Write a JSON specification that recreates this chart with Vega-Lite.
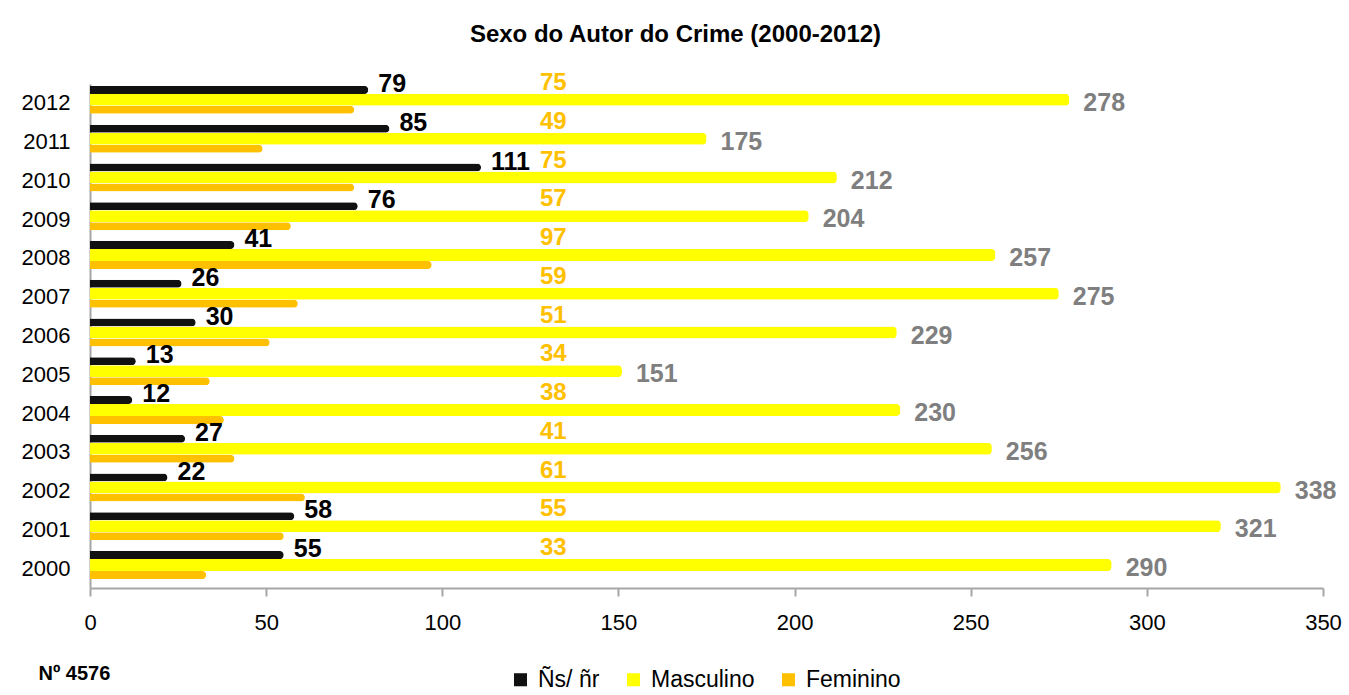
{
  "$schema": "https://vega.github.io/schema/vega-lite/v6.json",
  "width": 1233,
  "height": 504,
  "autosize": "none",
  "padding": {"left": 90, "top": 84, "right": 26, "bottom": 107},
  "background": "white",
  "config": {"font": "Liberation Sans", "view": {"stroke": null}},
  "title": {"text": "Sexo do Autor do Crime (2000-2012)", "fontSize": 24, "fontWeight": "bold", "font": "Liberation Sans", "color": "black", "offset": 24, "dx": -31},
  "data": {"values": [
    {"ano": "2012", "serie": "Ñs/ ñr", "valor": 79}, {"ano": "2012", "serie": "Masculino", "valor": 278}, {"ano": "2012", "serie": "Feminino", "valor": 75},
    {"ano": "2011", "serie": "Ñs/ ñr", "valor": 85}, {"ano": "2011", "serie": "Masculino", "valor": 175}, {"ano": "2011", "serie": "Feminino", "valor": 49},
    {"ano": "2010", "serie": "Ñs/ ñr", "valor": 111}, {"ano": "2010", "serie": "Masculino", "valor": 212}, {"ano": "2010", "serie": "Feminino", "valor": 75},
    {"ano": "2009", "serie": "Ñs/ ñr", "valor": 76}, {"ano": "2009", "serie": "Masculino", "valor": 204}, {"ano": "2009", "serie": "Feminino", "valor": 57},
    {"ano": "2008", "serie": "Ñs/ ñr", "valor": 41}, {"ano": "2008", "serie": "Masculino", "valor": 257}, {"ano": "2008", "serie": "Feminino", "valor": 97},
    {"ano": "2007", "serie": "Ñs/ ñr", "valor": 26}, {"ano": "2007", "serie": "Masculino", "valor": 275}, {"ano": "2007", "serie": "Feminino", "valor": 59},
    {"ano": "2006", "serie": "Ñs/ ñr", "valor": 30}, {"ano": "2006", "serie": "Masculino", "valor": 229}, {"ano": "2006", "serie": "Feminino", "valor": 51},
    {"ano": "2005", "serie": "Ñs/ ñr", "valor": 13}, {"ano": "2005", "serie": "Masculino", "valor": 151}, {"ano": "2005", "serie": "Feminino", "valor": 34},
    {"ano": "2004", "serie": "Ñs/ ñr", "valor": 12}, {"ano": "2004", "serie": "Masculino", "valor": 230}, {"ano": "2004", "serie": "Feminino", "valor": 38},
    {"ano": "2003", "serie": "Ñs/ ñr", "valor": 27}, {"ano": "2003", "serie": "Masculino", "valor": 256}, {"ano": "2003", "serie": "Feminino", "valor": 41},
    {"ano": "2002", "serie": "Ñs/ ñr", "valor": 22}, {"ano": "2002", "serie": "Masculino", "valor": 338}, {"ano": "2002", "serie": "Feminino", "valor": 61},
    {"ano": "2001", "serie": "Ñs/ ñr", "valor": 58}, {"ano": "2001", "serie": "Masculino", "valor": 321}, {"ano": "2001", "serie": "Feminino", "valor": 55},
    {"ano": "2000", "serie": "Ñs/ ñr", "valor": 55}, {"ano": "2000", "serie": "Masculino", "valor": 290}, {"ano": "2000", "serie": "Feminino", "valor": 33}
  ]},
  "encoding": {
    "y": {"field": "ano", "type": "ordinal", "sort": "descending",
          "scale": {"paddingInner": 0, "paddingOuter": 0},
          "axis": {"title": null, "ticks": false, "labelFontSize": 22, "labelColor": "black", "labelPadding": 20, "domainColor": "#a6a6a6", "domainWidth": 2}},
    "x": {"field": "valor", "type": "quantitative", "scale": {"domain": [0, 350], "nice": false},
          "axis": {"values": [0, 50, 100, 150, 200, 250, 300, 350], "grid": false, "labelFlush": false, "labelFontSize": 22, "labelColor": "black", "tickColor": "#a6a6a6", "domainColor": "#a6a6a6", "domainWidth": 2, "tickWidth": 2, "tickSize": 8, "labelPadding": 16,
                   "title": "Nº 4576", "titleFontSize": 20, "titleFontWeight": "bold", "titleColor": "black", "titleAnchor": "start", "titleAlign": "left", "titleBaseline": "middle", "titleX": -52, "titleY": 85}},
    "yOffset": {"field": "serie", "type": "nominal", "sort": ["Ñs/ ñr", "Masculino", "Feminino"],
                "scale": {"domain": ["Ñs/ ñr", "Masculino", "Feminino"], "paddingInner": 0, "paddingOuter": 0.44, "align": 0.1}},
    "color": {"field": "serie", "type": "nominal", "sort": ["Ñs/ ñr", "Masculino", "Feminino"],
              "scale": {"domain": ["Ñs/ ñr", "Masculino", "Feminino"], "range": ["#111111", "#FFFF00", "#FFC000"]},
              "legend": {"title": null, "orient": "none", "legendX": 419, "legendY": 584, "direction": "horizontal", "symbolType": "square", "symbolSize": 170, "symbolStrokeWidth": 0, "labelFontSize": 23, "labelColor": "black", "columnPadding": 22, "labelOffset": 6}}
  },
  "layer": [
    {
      "transform": [{"filter": "datum.serie === 'Ñs/ ñr'"}],
      "mark": {"type": "bar", "cornerRadiusEnd": 4, "height": 8}
    },
    {
      "transform": [{"filter": "datum.serie === 'Masculino'"}],
      "mark": {"type": "bar", "cornerRadiusEnd": 4, "height": 12}
    },
    {
      "transform": [{"filter": "datum.serie === 'Feminino'"}],
      "mark": {"type": "bar", "cornerRadiusEnd": 4, "height": 8}
    },
    {
      "transform": [{"filter": "datum.serie === 'Ñs/ ñr'"}],
      "mark": {"type": "text", "align": "left", "baseline": "middle", "dx": 10, "dy": 0, "fontSize": 25, "fontWeight": "bold", "color": "black"},
      "encoding": {
        "y": {"field": "ano", "type": "ordinal", "sort": "descending", "bandPosition": 0},
        "yOffset": null,
        "color": null,
        "text": {"field": "valor", "type": "quantitative"}
      }
    },
    {
      "transform": [{"filter": "datum.serie === 'Masculino'"}],
      "mark": {"type": "text", "align": "left", "baseline": "middle", "dx": 14, "dy": 19, "fontSize": 25, "fontWeight": "bold", "color": "#7f7f7f"},
      "encoding": {
        "y": {"field": "ano", "type": "ordinal", "sort": "descending", "bandPosition": 0},
        "yOffset": null,
        "color": null,
        "text": {"field": "valor", "type": "quantitative"}
      }
    },
    {
      "transform": [{"filter": "datum.serie === 'Feminino'"}],
      "mark": {"type": "text", "align": "center", "baseline": "middle", "dy": -1, "fontSize": 24, "fontWeight": "bold", "color": "#FFC000"},
      "encoding": {
        "y": {"field": "ano", "type": "ordinal", "sort": "descending", "bandPosition": 0},
        "yOffset": null,
        "color": null,
        "x": {"datum": 131.5},
        "text": {"field": "valor", "type": "quantitative"}
      }
    }
  ]
}
